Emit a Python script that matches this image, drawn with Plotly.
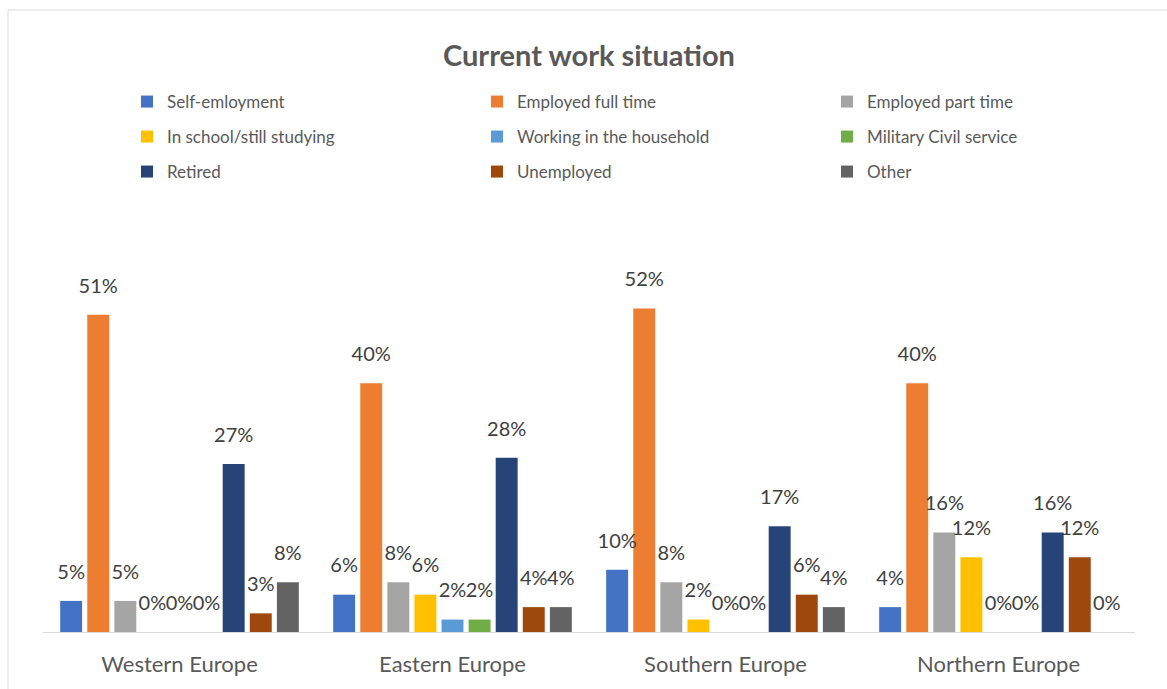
import plotly.graph_objects as go

# Regions along the x axis
regions = ["Western Europe", "Eastern Europe", "Southern Europe", "Northern Europe"]

# Work-situation categories (legend order) and their colours
situations = [
    "Self-emloyment", "Employed full time", "Employed part time",
    "In school/still studying", "Working in the household", "Military Civil service",
    "Retired", "Unemployed", "Other",
]
colors = [
    "#4472C4", "#ED7D31", "#A5A5A5",
    "#FFC000", "#5B9BD5", "#70AD47",
    "#264478", "#9E480E", "#636363",
]

# Share of respondents (%) per region, one list per situation
self_employment = [5, 6, 10, 4]
employed_full_time = [51, 40, 52, 40]
employed_part_time = [5, 8, 8, 16]
in_school = [0, 6, 2, 12]
household = [0, 2, 0, 0]
military_civil = [0, 2, 0, 0]
retired = [27, 28, 17, 16]
unemployed = [3, 4, 6, 12]
other = [8, 4, 4, 0]

series = [
    self_employment, employed_full_time, employed_part_time,
    in_school, household, military_civil,
    retired, unemployed, other,
]

FONT = "Lato, 'Open Sans', sans-serif"
BARGAP = 0.107
legend_ids = ["legend", "legend2", "legend3"]

fig = go.Figure()

for i, (name, vals, col) in enumerate(zip(situations, series, colors)):
    fig.add_trace(go.Bar(
        x=regions, y=vals, name=name,
        marker=dict(color=col, line=dict(width=0)),
        offsetgroup=str(i),
        legend=legend_ids[i // 3],
        hoverinfo="skip",
    ))

# Value labels sit above each bar, grouped the same way as the bars
for i, vals in enumerate(series):
    fig.add_trace(go.Scatter(
        x=regions, y=vals,
        mode="markers+text",
        text=[f"{v}%" for v in vals],
        textposition="top center",
        textfont=dict(family=FONT, size=20, color="#404040"),
        marker=dict(size=26, opacity=0),
        offsetgroup=str(i),
        cliponaxis=False,
        showlegend=False,
        hoverinfo="skip",
    ))

W, H = 1167, 689
ML, MR, MT, MB = 43, 32, 250, 57
PW = W - ML - MR
PH = H - MT - MB
PX_PER_PCT = 6.22

def px_x(p):
    return (p - ML) / PW

def px_y(p):
    return (H - MB - p) / PH

legend_common = dict(
    orientation="h",
    xref="container", yref="container",
    x=127 / W, xanchor="left",
    yanchor="middle",
    entrywidth=305, entrywidthmode="pixels",
    font=dict(family=FONT, size=17, color="#595959"),
    bgcolor="rgba(0,0,0,0)",
    itemclick=False, itemdoubleclick=False,
)

fig.update_layout(
    width=W, height=H,
    margin=dict(l=ML, r=MR, t=MT, b=MB, autoexpand=False),
    paper_bgcolor="white", plot_bgcolor="white",
    barmode="group", bargap=BARGAP, bargroupgap=0.19,
    scattermode="group", scattergap=BARGAP,
    font=dict(family=FONT, color="#595959"),
    title=dict(
        text="<b>Current work situation</b>",
        font=dict(family=FONT, size=29, color="#595959"),
        x=589 / W, xanchor="center", xref="container",
        y=1 - 56 / H, yanchor="middle", yref="container",
    ),
    legend=dict(legend_common, y=1 - 102 / H),
    legend2=dict(legend_common, y=1 - 137 / H),
    legend3=dict(legend_common, y=1 - 172 / H),
    xaxis=dict(
        showline=True, linecolor="#d9d9d9", linewidth=1,
        showgrid=False, ticks="", automargin=False,
        tickfont=dict(family=FONT, size=22, color="#595959"),
        ticklabelstandoff=13,
    ),
    yaxis=dict(
        range=[0, PH / PX_PER_PCT], automargin=False,
        visible=False, showgrid=False, zeroline=False,
    ),
    shapes=[dict(
        type="rect", xref="paper", yref="paper",
        x0=px_x(8), x1=px_x(W + 10), y0=px_y(H + 10), y1=px_y(10),
        line=dict(color="#d9d9d9", width=1),
        fillcolor="rgba(0,0,0,0)", layer="below",
    )],
)

fig.write_html("out.html")
